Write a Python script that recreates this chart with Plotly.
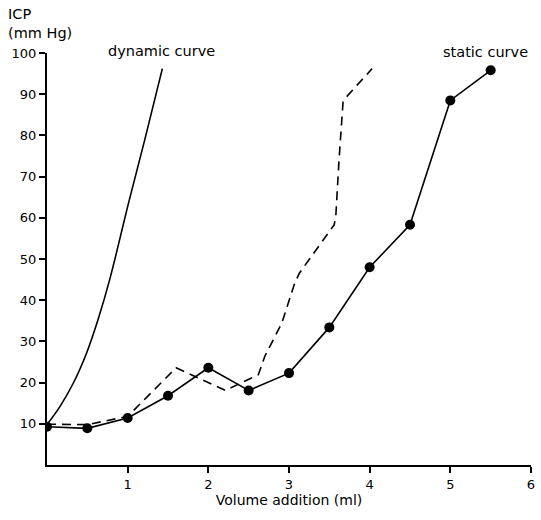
import plotly.graph_objects as go

# Static curve (measured points)
static_x = [0, 0.5, 1.0, 1.5, 2.0, 2.5, 3.0, 3.5, 4.0, 4.5, 5.0, 5.5]
static_y = [9.3, 8.9, 11.4, 16.8, 23.6, 18.1, 22.3, 33.4, 48.0, 58.3, 88.5, 95.8]

# Dashed curve
dashed_x = [0, 0.5, 1.0, 1.6, 2.21, 2.62, 2.7, 2.91, 3.07, 3.13, 3.56, 3.58, 3.62, 3.67, 3.71, 4.03]
dashed_y = [9.9, 9.8, 11.8, 23.6, 18.1, 21.9, 26.4, 34.4, 44.1, 46.6, 58.3, 60.3, 74.0, 88.1, 89.3, 96.2]

# Dynamic curve
dyn_x = [0, 0.164, 0.327, 0.491, 0.633, 0.777, 1.02, 1.21, 1.43]
dyn_y = [9.8, 14.3, 19.9, 27.2, 35.3, 45.0, 64.3, 78.8, 96.2]

x_ticks = [1, 2, 3, 4, 5, 6]
y_ticks = [10, 20, 30, 40, 50, 60, 70, 80, 90, 100]

font_family = "DejaVu Sans"

W, H = 541, 520
l, r, t, b = 47, 6, 53, 55
pw, ph = W - l - r, H - t - b


def px2paper(px, py):
    return (px - l) / pw, 1 - (py - t) / ph


fig = go.Figure()
fig.add_trace(go.Scatter(x=dyn_x, y=dyn_y, mode="lines",
                         line=dict(color="black", width=1.6, shape="spline", smoothing=1.0),
                         showlegend=False, hoverinfo="skip"))
fig.add_trace(go.Scatter(x=dashed_x, y=dashed_y, mode="lines",
                         line=dict(color="black", width=1.6, dash="9px,6px"),
                         showlegend=False, hoverinfo="skip"))
fig.add_trace(go.Scatter(x=static_x, y=static_y, mode="lines+markers",
                         line=dict(color="black", width=1.6),
                         marker=dict(color="black", size=10),
                         showlegend=False, hoverinfo="skip"))

labels = [("ICP", 6, 14), ("(mm Hg)", 6, 33), ("dynamic curve", 106, 51), ("static curve", 444, 52)]
anns = []
for txt, px, py in labels:
    xx, yy = px2paper(px, py)
    anns.append(dict(text=txt, x=xx, y=yy, xref="paper", yref="paper", showarrow=False,
                     xanchor="left", yanchor="middle",
                     font=dict(size=14.5, family=font_family)))

fig.update_layout(
    width=W, height=H,
    margin=dict(l=l, r=r, t=t, b=b),
    paper_bgcolor="white", plot_bgcolor="white",
    font=dict(family=font_family, size=12, color="black"),
    xaxis=dict(range=[0, 6], tickvals=x_ticks, ticktext=[str(v) for v in x_ticks],
               showgrid=False, zeroline=False, showline=True, linecolor="black",
               linewidth=2, ticks="outside", ticklen=6, tickwidth=1.5, tickcolor="black",
               title=dict(text="Volume addition (ml)", font=dict(size=14), standoff=4),
               tickfont=dict(size=13)),
    yaxis=dict(range=[0, 100], tickvals=y_ticks, ticktext=[str(v) for v in y_ticks],
               showgrid=False, zeroline=False, showline=True, linecolor="black",
               linewidth=2, ticks="outside", ticklen=6, tickwidth=1.5, tickcolor="black",
               tickfont=dict(size=13)),
    annotations=anns,
)

fig.write_html("out.html")
